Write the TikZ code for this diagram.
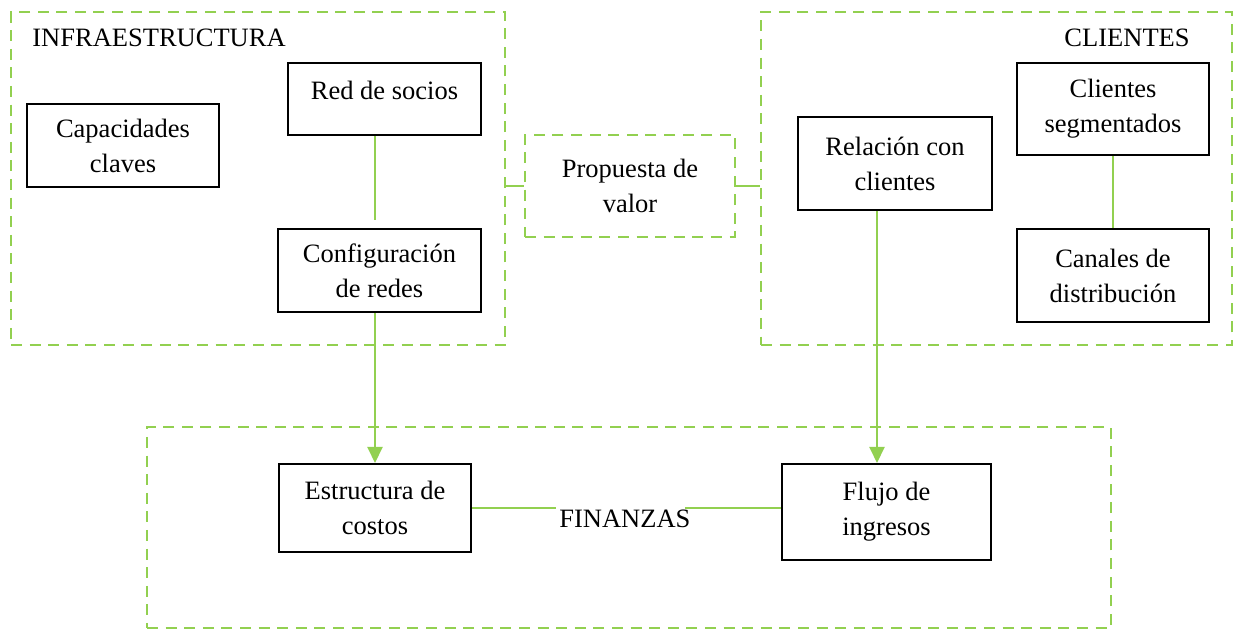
\documentclass[tikz,border=0pt]{standalone}
\usepackage{fontspec}
\setmainfont{Liberation Serif}
\usetikzlibrary{arrows.meta,shapes}
\definecolor{verde}{RGB}{146,208,80}
\tikzstyle{bloque} = [draw, line width=1pt, align=center, inner sep=0pt]
\tikzstyle{grupo} = [draw=verde, line width=1.4pt, dash pattern=on 5.5pt off 3.8pt, inner sep=0pt, align=center]
\tikzstyle{enlace} = [draw=verde, line width=1pt]
\tikzstyle{flecha} = [enlace, -{Triangle[length=8pt,width=7.5pt]}]
\tikzstyle{titulo} = [inner sep=0pt]
\newcommand{\caja}[5]{
  \node[bloque, minimum width=#3, minimum height=#4] (#1) at (#2) {#5};
}
\newcommand{\marco}[4]{
  \node[grupo, minimum width=#3, minimum height=#4] (#1) at (#2) {};
}

\begin{document}
\begin{tikzpicture}[x=0.5pt, y=-0.5pt]
\tikzstyle{every node}=[font=\fontsize{13.25}{17.5}\selectfont]
\useasboundingbox (0,0) rectangle (1237,630);

% marcos
\marco{infra}{258,178.5}{247pt}{166.5pt}
\marco{cli}{996.5,178.5}{235.5pt}{166.5pt}
\marco{fin}{629,527.5}{482pt}{100.5pt}
\node[grupo, minimum width=105pt, minimum height=51pt] (prop) at (630,186) {Propuesta de\\valor};

\node[titulo, anchor=base west] (tinfra) at (32,47) {INFRAESTRUCTURA};
\node[titulo, anchor=base east] (tcli) at (1190,47) {CLIENTES};
\node[titulo, anchor=base west] (tfin) at (559,527) {FINANZAS};

% infraestructura
\caja{cap}{123,145.5}{96pt}{41.5pt}{Capacidades\\claves}
\caja{red}{384.5,99}{96.5pt}{36pt}{\raisebox{4.5pt}[\height][\depth]{Red de socios}}
\caja{conf}{379.5,270.5}{101.5pt}{41.5pt}{Configuración\\de redes}

% clientes
\caja{rel}{895,163.5}{97pt}{46.5pt}{Relación con\\clientes}
\caja{seg}{1113,109}{96pt}{46pt}{Clientes\\segmentados}
\caja{can}{1113,275.5}{96pt}{46.5pt}{Canales de\\distribución}

% finanzas
\caja{est}{375,508}{96pt}{44pt}{Estructura de\\costos}
\caja{flu}{886.5,512}{104.5pt}{48pt}{Flujo de\\ingresos}

\coordinate (redfin) at (375,220);
\coordinate (relx) at (877,0);
\coordinate (finizq) at (556,508);
\coordinate (finder) at (685,508);

\draw[enlace] (red.south -| redfin) -- (redfin);
\draw[flecha] (conf.south -| est.north) -- (est.north);
\draw[enlace] (seg.south) -- (can.north);
\draw[flecha] (rel.south -| relx) -- (flu.north -| relx);
\draw[enlace] (est.east) -- (finizq);
\draw[enlace] (finder) -- (finder -| flu.west);
\draw[enlace] (infra.east |- prop.west) -- (prop.west);
\draw[enlace] (prop.east) -- (prop.east -| cli.west);
\end{tikzpicture}
\end{document}
